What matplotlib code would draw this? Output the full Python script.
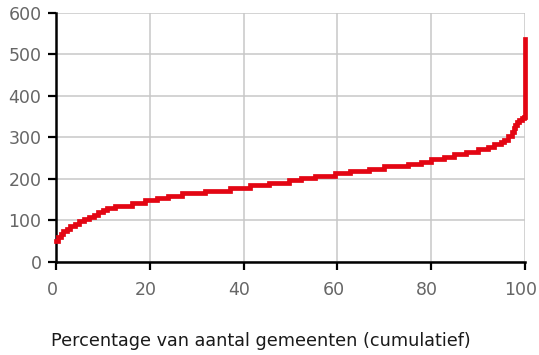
import matplotlib
matplotlib.use('Agg')
import matplotlib.pyplot as plt
import matplotlib.transforms as mtransforms

# Step start (percentage of municipalities, cumulative) and value level
pct_start = [0, 0.5, 1, 1.5, 2.3, 3, 4, 5, 6, 7, 8, 9, 10, 10.8, 12.5, 16.2, 19, 21.5,
             23.9, 26.8, 31.8, 37, 41.3, 45.4, 49.6, 52.2, 55.3, 59.6, 62.8, 66.7, 70,
             75, 77.9, 80, 82.8, 84.9, 87.5, 89.9, 92.1, 93.5, 94.9, 95.5, 96.3, 97.3,
             97.6, 97.9, 98.3, 98.8, 99.3, 99.8, 100]
level = [50, 60, 68, 75, 80, 86, 92, 98, 103, 108, 114, 120, 125, 130, 135.5, 142.5, 149,
         155, 160, 165.5, 171, 178, 184.5, 191, 197.5, 202.5, 208, 213.5, 219, 224, 230,
         236, 241.5, 247, 253.5, 260, 265.5, 271, 277.5, 283, 288, 294, 303, 312, 322,
         331, 338, 343, 346, 348, 536]

x_ticks = [0, 20, 40, 60, 80, 100]
y_ticks = [0, 100, 200, 300, 400, 500, 600]

plt.rcParams['font.family'] = ['DejaVu Sans']

fig = plt.figure(figsize=(5.39, 3.55), dpi=100)
ax = fig.add_axes([0.1039, 0.262, 0.870, 0.702])

ax.plot(pct_start, level, drawstyle='steps-post', color='#e30613', linewidth=3.4,
        solid_joinstyle='miter', clip_on=False, zorder=3)

ax.set_xlim(0, 100)
ax.set_ylim(0, 600)
ax.set_xticks(x_ticks)
ax.set_yticks(y_ticks)
ax.grid(True, color='#c8c8c8', linewidth=1.1, zorder=0)
ax.set_axisbelow(True)

for side in ['top', 'right']:
    ax.spines[side].set_visible(False)
for side in ['left', 'bottom']:
    ax.spines[side].set_linewidth(1.8)
    ax.spines[side].set_color('black')

ax.tick_params(axis='both', length=6, width=1.6, color='black', labelsize=12.5,
               labelcolor='#666666')
ax.tick_params(axis='x', pad=8)
ax.tick_params(axis='y', pad=4.5)

# the x tick labels sit a few pixels left of their ticks in the original
shift = mtransforms.ScaledTranslation(-4 / 100, 0, fig.dpi_scale_trans)
for lab in ax.get_xticklabels():
    lab.set_transform(lab.get_transform() + shift)

# x label sits a bit left of the axes centre in the original
fig.text(261 / 539, 1 - 346 / 355, 'Percentage van aantal gemeenten (cumulatief)',
         ha='center', va='baseline', fontsize=12.7, color='#1a1a1a')

plt.savefig('out.png', dpi=100)
